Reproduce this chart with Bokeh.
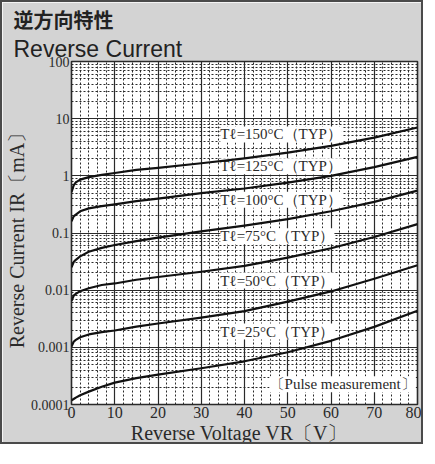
from bokeh.plotting import figure
from bokeh.models import FixedTicker, Label, Title, Range1d
from bokeh.embed import file_html
from bokeh.resources import INLINE

# ---- data ----
voltage = [0, 0.5, 1, 2, 4, 7, 10, 15, 20, 30, 40, 50, 60, 70, 80]
ir_150 = [0.52, 0.68, 0.77, 0.86, 0.95, 1.04, 1.12, 1.27, 1.38, 1.66, 2.02, 2.55, 3.35, 4.65, 7.0]
ir_125 = [0.16, 0.195, 0.21, 0.24, 0.27, 0.295, 0.317, 0.36, 0.40, 0.50, 0.60, 0.76, 1.00, 1.42, 2.14]
ir_100 = [0.025, 0.031, 0.034, 0.039, 0.047, 0.055, 0.0617, 0.072, 0.083, 0.107, 0.135, 0.175, 0.24, 0.35, 0.55]
ir_75 = [0.0065, 0.0080, 0.0086, 0.0096, 0.0108, 0.0123, 0.0131, 0.0152, 0.0170, 0.021, 0.0266, 0.037, 0.054, 0.085, 0.143]
ir_50 = [0.00103, 0.00125, 0.00135, 0.00150, 0.00168, 0.00185, 0.00197, 0.0023, 0.00261, 0.0033, 0.0043, 0.0063, 0.0095, 0.0158, 0.0273]
ir_25 = [0.000118, 0.000125, 0.000132, 0.000145, 0.000168, 0.000205, 0.000241, 0.00029, 0.000332, 0.00043, 0.00057, 0.00082, 0.00130, 0.00228, 0.00438]

series = [ir_150, ir_125, ir_100, ir_75, ir_50, ir_25]
curve_labels = ["Tℓ=150°C（TYP）", "Tℓ=125°C（TYP）", "Tℓ=100°C（TYP）",
                "Tℓ=75°C（TYP）", "Tℓ=50°C（TYP）", "Tℓ=25°C（TYP）"]
label_y = [5.3, 1.47, 0.38, 0.0873, 0.0147, 0.00189]
label_x = 34.4

x_ticks = [0, 10, 20, 30, 40, 50, 60, 70, 80]
y_ticks = [0.0001, 0.001, 0.01, 0.1, 1, 10, 100]
y_tick_labels = ["0.0001", "0.001", "0.01", "0.1", "1", "10", "100"]

title_jp = "逆方向特性"
title_en = "Reverse Current"
x_title = "Reverse Voltage   VR〔V〕"
y_title = "Reverse Current  IR〔mA〕"
note = "〔Pulse measurement〕"

SERIF = "Liberation Serif"
BG = "#d3d3d3"
INK = "#2a2a2a"

p = figure(width=423, height=444, x_range=Range1d(0, 80), y_range=Range1d(1e-4, 100),
           y_axis_type="log", output_backend="svg", toolbar_location=None,
           min_border_left=0, min_border_right=8, min_border_top=0, min_border_bottom=0)
p.styles = {"border": "2px solid #4a4a4a"}
p.background_fill_color = "white"
p.border_fill_color = BG
p.outline_line_color = INK
p.outline_line_width = 1.6

xt = FixedTicker(ticks=x_ticks, minor_ticks=[v for v in range(0, 81, 2) if v % 10])
yt = FixedTicker(ticks=y_ticks, minor_ticks=[k * 10.0 ** e for e in range(-4, 2) for k in range(2, 10)])
p.xaxis.ticker = xt
p.yaxis.ticker = yt
p.xgrid.ticker = xt
p.ygrid.ticker = yt
p.yaxis.major_label_overrides = dict(zip(y_ticks, y_tick_labels))

for g in (p.xgrid, p.ygrid):
    g.grid_line_color = INK
    g.grid_line_width = 1.2
    g.grid_line_alpha = 1
    g.minor_grid_line_color = INK
    g.minor_grid_line_dash = "2 2"
    g.minor_grid_line_width = 1

for ax in (p.xaxis, p.yaxis):
    ax.axis_line_color = None
    ax.major_tick_line_color = None
    ax.minor_tick_line_color = None
    ax.major_tick_out = 0
    ax.minor_tick_out = 0
    ax.major_label_text_font = SERIF
    ax.major_label_text_color = INK
    ax.axis_label_text_font = SERIF
    ax.axis_label_text_font_style = "normal"
    ax.axis_label_text_color = INK
    ax.axis_label_text_font_size = "20px"
    ax.major_label_standoff = 2

p.xaxis.axis_label_standoff = 1
p.yaxis.axis_label_standoff = 0
p.xaxis.major_label_text_font_size = "16px"
p.yaxis.major_label_text_font_size = "14px"
p.xaxis.axis_label = x_title
p.yaxis.axis_label = y_title

for txt, ly in zip(curve_labels, label_y):
    p.add_layout(Label(x=label_x, y=ly, text=txt, text_font=SERIF, text_font_size="15px",
                       text_color=INK, text_baseline="middle", text_align="left",
                       background_fill_color="white", padding=0, level="underlay"))

p.add_layout(Label(x=79.6, y=0.000225, text=note, text_font=SERIF, text_font_size="15px",
                   text_color=INK, text_baseline="middle", text_align="right",
                   background_fill_color="white", padding=0, level="underlay"))

for ys in series:
    p.line(voltage, ys, line_color="#111111", line_width=2.2, line_join="round")

p.add_layout(Title(text=title_en, text_font="Liberation Sans", text_font_size="23px",
                   text_font_style="normal", text_color="#222222", align="left",
                   offset=-58, standoff=0), "above")
p.add_layout(Title(text=title_jp, text_font="Noto Sans CJK JP", text_font_size="20px",
                   text_font_style="bold", text_color="#222222", align="left",
                   offset=-58, standoff=0), "above")

open("out.html", "w").write(file_html(p, INLINE))
